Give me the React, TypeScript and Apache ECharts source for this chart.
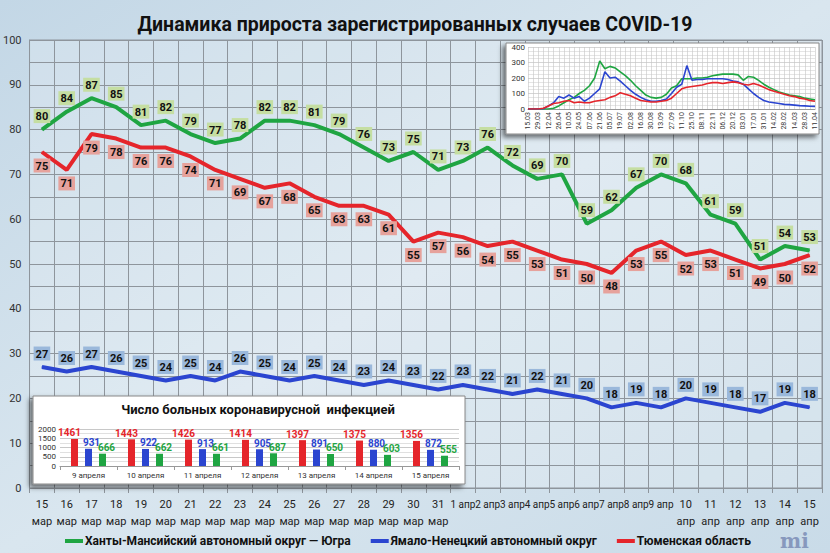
import { useEffect, useRef } from "react";
import * as echarts from "echarts";

// основной график: прирост за сутки
const days = [
  "15\nмар", "16\nмар", "17\nмар", "18\nмар", "19\nмар", "20\nмар", "21\nмар", "22\nмар",
  "23\nмар", "24\nмар", "25\nмар", "26\nмар", "27\nмар", "28\nмар", "29\nмар", "30\nмар",
  "31\nмар", "1 апр", "2 апр", "3 апр", "4 апр", "5 апр", "6 апр", "7 апр", "8 апр", "9 апр",
  "10\nапр", "11\nапр", "12\nапр", "13\nапр", "14\nапр", "15\nапр",
];
const khmao = [80, 84, 87, 85, 81, 82, 79, 77, 78, 82, 82, 81, 79, 76, 73, 75, 71, 73, 76, 72, 69, 70, 59, 62, 67, 70, 68, 61, 59, 51, 54, 53];
const tyumen = [75, 71, 79, 78, 76, 76, 74, 71, 69, 67, 68, 65, 63, 63, 61, 55, 57, 56, 54, 55, 53, 51, 50, 48, 53, 55, 52, 53, 51, 49, 50, 52];
const yanao = [27, 26, 27, 26, 25, 24, 25, 24, 26, 25, 24, 25, 24, 23, 24, 23, 22, 23, 22, 21, 22, 21, 20, 18, 19, 18, 20, 19, 18, 17, 19, 18];
const yTicks = [0, 100];

// врезка справа: весь период (по неделям)
const weeks = [
  "15.03", "22.03", "29.03", "05.04", "12.04", "19.04", "26.04", "03.05", "10.05", "17.05",
  "24.05", "31.05", "07.06", "14.06", "21.06", "28.06", "05.07", "12.07", "19.07", "26.07",
  "02.08", "09.08", "16.08", "23.08", "30.08", "06.09", "13.09", "20.09", "27.09", "04.10",
  "11.10", "18.10", "25.10", "01.11", "08.11", "15.11", "22.11", "29.11", "06.12", "13.12",
  "20.12", "27.12", "03.01", "10.01", "17.01", "24.01", "31.01", "07.02", "14.02", "21.02",
  "28.02", "07.03", "14.03", "21.03", "28.03", "04.04", "11.04",
];
const khmaoWeekly = [0, 0, 0, 0, 0, 5, 20, 40, 60, 75, 100, 120, 150, 200, 310, 260, 275, 265, 240, 215, 185, 150, 120, 90, 75, 70, 75, 95, 135, 150, 195, 195, 195, 200, 200, 205, 215, 220, 225, 225, 225, 220, 185, 210, 205, 185, 160, 140, 125, 110, 100, 90, 85, 80, 70, 65, 60];
const yanaoWeekly = [0, 0, 0, 2, 20, 40, 80, 70, 90, 70, 80, 50, 70, 100, 130, 240, 200, 205, 180, 150, 120, 95, 75, 60, 50, 50, 55, 65, 100, 140, 160, 280, 185, 190, 190, 195, 195, 195, 195, 190, 180, 175, 160, 130, 100, 75, 55, 45, 40, 35, 30, 28, 25, 22, 20, 18, 17];
const tyumenWeekly = [0, 0, 0, 5, 20, 35, 40, 50, 55, 40, 45, 40, 40, 50, 55, 60, 75, 85, 105, 95, 85, 70, 55, 50, 45, 45, 50, 55, 70, 100, 130, 140, 145, 150, 155, 165, 170, 170, 165, 170, 175, 170, 160, 155, 165, 155, 140, 125, 115, 105, 95, 85, 80, 70, 65, 55, 50];

// врезка слева: число больных
const barDays = ["9 апреля", "10 апреля", "11 апреля", "12 апреля", "13 апреля", "14 апреля", "15 апреля"];
const barTyumen = [1461, 1443, 1426, 1414, 1397, 1375, 1356];
const barYanao = [931, 922, 913, 905, 891, 880, 872];
const barKhmao = [666, 662, 661, 687, 650, 603, 555];

const GREEN = "#1fa542";
const RED = "#e5252b";
const BLUE = "#2b45d0";
const FONT = "Roboto, 'Noto Sans', sans-serif";

const NAME_KHMAO = "Ханты-Мансийский автономный округ — Югра";
const NAME_YANAO = "Ямало-Ненецкий автономный округ";
const NAME_TYUMEN = "Тюменская область";

function dataLabel(pos: "top" | "bottom", bg: string) {
  return {
    show: true,
    position: pos,
    distance: 6,
    backgroundColor: bg,
    padding: [2, 2, 1, 2],
    color: "#111",
    fontSize: 11,
    fontWeight: "bold" as const,
    fontFamily: FONT,
  };
}

export default function App() {
  const ref = useRef<HTMLDivElement | null>(null);

  useEffect(() => {
    document.body.style.margin = "0";
    if (!ref.current) return;
    const chart = echarts.init(ref.current, null, { renderer: "svg" });

    const option: echarts.EChartsOption = {
      animation: false,
      backgroundColor: {
        type: "linear",
        x: 0,
        y: 0,
        x2: 1,
        y2: 1,
        colorStops: [
          { offset: 0, color: "#c3d7e6" },
          { offset: 0.5, color: "#d9e6ef" },
          { offset: 1, color: "#c9dbe8" },
        ],
      },
      textStyle: { fontFamily: FONT },
      title: {
        text: "Динамика прироста зарегистрированных случаев COVID-19",
        left: "center",
        top: 9,
        textStyle: { fontSize: 19.5, fontWeight: "bold", color: "#111", fontFamily: FONT },
      },
      legend: {
        left: 60,
        top: 530,
        itemGap: 20,
        itemWidth: 18,
        itemHeight: 4,
        icon: "rect",
        data: [NAME_KHMAO, NAME_YANAO, NAME_TYUMEN],
        textStyle: {
          fontSize: 12,
          fontWeight: "bold",
          color: "#111",
          fontFamily: FONT,
          padding: [0, 0, 0, -3],
        },
      },
      graphic: [
        {
          type: "rect",
          z: 5,
          shape: { x: 506, y: 43, width: 313, height: 91 },
          style: {
            fill: "#fff",
            stroke: "#888",
            lineWidth: 1,
            shadowBlur: 5,
            shadowOffsetX: -3,
            shadowOffsetY: 3,
            shadowColor: "rgba(0,0,0,0.55)",
          },
        },
        {
          type: "rect",
          z: 5,
          shape: { x: 33, y: 396, width: 432, height: 88 },
          style: {
            fill: "#fff",
            stroke: "#888",
            lineWidth: 1,
            shadowBlur: 5,
            shadowOffsetX: -3,
            shadowOffsetY: 3,
            shadowColor: "rgba(0,0,0,0.55)",
          },
        },
        {
          type: "text",
          z: 6,
          x: 258,
          y: 403,
          style: {
            text: "Число больных коронавирусной  инфекцией",
            fontSize: 13,
            fontWeight: "bold",
            fontFamily: FONT,
            fill: "#111",
            align: "center",
          },
        },
        {
          type: "text",
          z: 6,
          x: 780,
          y: 531,
          style: {
            text: "mi",
            fontSize: 20,
            fontWeight: "bold",
            fontFamily: "'DejaVu Serif', serif",
            fill: "#8798bd",
          },
        },
      ],
      grid: [
        {
          left: 26,
          right: 8,
          top: 40,
          bottom: 65,
          show: true,
          backgroundColor: "rgba(255,255,255,0.18)",
          borderColor: "#8e959c",
        },
        { left: 528, width: 287, top: 47, height: 62 },
        { left: 60, width: 399, top: 429, height: 37 },
      ],
      xAxis: [
        {
          gridIndex: 0,
          type: "category",
          data: days,
          boundaryGap: true,
          axisLine: { lineStyle: { color: "#8e959c" } },
          axisTick: { show: true, length: 5, lineStyle: { color: "#8e959c" } },
          axisLabel: {
            interval: 0,
            color: "#222",
            fontSize: 11,
            lineHeight: 17,
            margin: 8,
            formatter: (v: string) => (v.includes("\n") ? v : "{s|" + v + "}\n "),
            rich: { s: { fontSize: 10, color: "#222", lineHeight: 17 } },
          },
          splitLine: { show: true, interval: 0, lineStyle: { color: "#8e959c" } },
        },
        {
          gridIndex: 1,
          type: "category",
          data: weeks,
          boundaryGap: false,
          z: 6,
          axisLine: { lineStyle: { color: "#999" } },
          axisTick: { show: false },
          axisLabel: { interval: 1, rotate: 90, fontSize: 7, color: "#333", margin: 3 },
          splitLine: { show: true, interval: 0, lineStyle: { color: "#c4c4c4", width: 0.6 } },
        },
        {
          gridIndex: 2,
          type: "category",
          data: barDays,
          z: 6,
          axisLine: { lineStyle: { color: "#999" } },
          axisTick: { show: true, length: 4, lineStyle: { color: "#999" } },
          axisLabel: { fontSize: 8, color: "#333", margin: 5 },
        },
      ],
      yAxis: [
        {
          gridIndex: 0,
          type: "value",
          min: yTicks[0],
          max: yTicks[1],
          interval: 10,
          axisLine: { show: true, lineStyle: { color: "#8e959c" } },
          axisLabel: { color: "#333", fontSize: 11, margin: 8 },
          splitLine: { lineStyle: { color: "#8e959c" } },
          minorTick: { show: false, splitNumber: 2 },
          minorSplitLine: { show: true, lineStyle: { color: "#8e959c" } },
        },
        {
          gridIndex: 1,
          type: "value",
          min: 0,
          max: 400,
          interval: 100,
          z: 6,
          axisLabel: { fontSize: 8, color: "#333", margin: 3 },
          splitLine: { lineStyle: { color: "#b8b8b8", width: 0.6 } },
          minorTick: { show: false, splitNumber: 4 },
          minorSplitLine: { show: true, lineStyle: { color: "#d4d4d4", width: 0.6 } },
        },
        {
          gridIndex: 2,
          type: "value",
          min: 0,
          max: 2000,
          interval: 500,
          z: 6,
          axisLabel: { fontSize: 8, color: "#333", margin: 4, formatter: (v: number) => String(v) },
          splitLine: { lineStyle: { color: "#c8c8c8" } },
          minorTick: { show: false, splitNumber: 2 },
          minorSplitLine: { show: true, lineStyle: { color: "#e0e0e0" } },
        },
      ],
      series: [
        {
          name: NAME_KHMAO,
          type: "line",
          xAxisIndex: 0,
          yAxisIndex: 0,
          data: khmao,
          symbol: "circle",
          symbolSize: 1,
          color: GREEN,
          lineStyle: { color: GREEN, width: 4 },
          label: dataLabel("top", "#c5dea2"),
          z: 3,
        },
        {
          name: NAME_YANAO,
          type: "line",
          xAxisIndex: 0,
          yAxisIndex: 0,
          data: yanao,
          symbol: "circle",
          symbolSize: 1,
          color: BLUE,
          lineStyle: { color: BLUE, width: 4 },
          label: dataLabel("top", "#9ab8db"),
          z: 3,
        },
        {
          name: NAME_TYUMEN,
          type: "line",
          xAxisIndex: 0,
          yAxisIndex: 0,
          data: tyumen,
          symbol: "circle",
          symbolSize: 1,
          color: RED,
          lineStyle: { color: RED, width: 4 },
          label: dataLabel("bottom", "#e6a29c"),
          z: 3,
        },
        {
          name: "inset-khmao",
          type: "line",
          xAxisIndex: 1,
          yAxisIndex: 1,
          data: khmaoWeekly,
          showSymbol: false,
          color: GREEN,
          lineStyle: { color: GREEN, width: 1.6 },
          z: 7,
        },
        {
          name: "inset-yanao",
          type: "line",
          xAxisIndex: 1,
          yAxisIndex: 1,
          data: yanaoWeekly,
          showSymbol: false,
          color: BLUE,
          lineStyle: { color: BLUE, width: 1.6 },
          z: 7,
        },
        {
          name: "inset-tyumen",
          type: "line",
          xAxisIndex: 1,
          yAxisIndex: 1,
          data: tyumenWeekly,
          showSymbol: false,
          color: RED,
          lineStyle: { color: RED, width: 1.6 },
          z: 7,
        },
        {
          name: "bar-tyumen",
          type: "bar",
          xAxisIndex: 2,
          yAxisIndex: 2,
          data: barTyumen,
          barWidth: 7,
          barGap: "100%",
          itemStyle: { color: RED },
          label: { show: true, position: "top", distance: 1, offset: [-5, 0], color: RED, fontSize: 10, fontWeight: "bold" },
          z: 7,
        },
        {
          name: "bar-yanao",
          type: "bar",
          xAxisIndex: 2,
          yAxisIndex: 2,
          data: barYanao,
          barWidth: 7,
          barGap: "100%",
          itemStyle: { color: BLUE },
          label: { show: true, position: "top", distance: 1, offset: [3, 0], color: BLUE, fontSize: 10, fontWeight: "bold" },
          z: 7,
        },
        {
          name: "bar-khmao",
          type: "bar",
          xAxisIndex: 2,
          yAxisIndex: 2,
          data: barKhmao,
          barWidth: 7,
          barGap: "100%",
          itemStyle: { color: GREEN },
          label: { show: true, position: "top", distance: 1, offset: [4, 0], color: GREEN, fontSize: 10, fontWeight: "bold" },
          z: 7,
        },
      ],
    };

    chart.setOption(option);
    return () => {
      chart.dispose();
    };
  }, []);

  return <div ref={ref} style={{ width: 830, height: 553 }} />;
}
